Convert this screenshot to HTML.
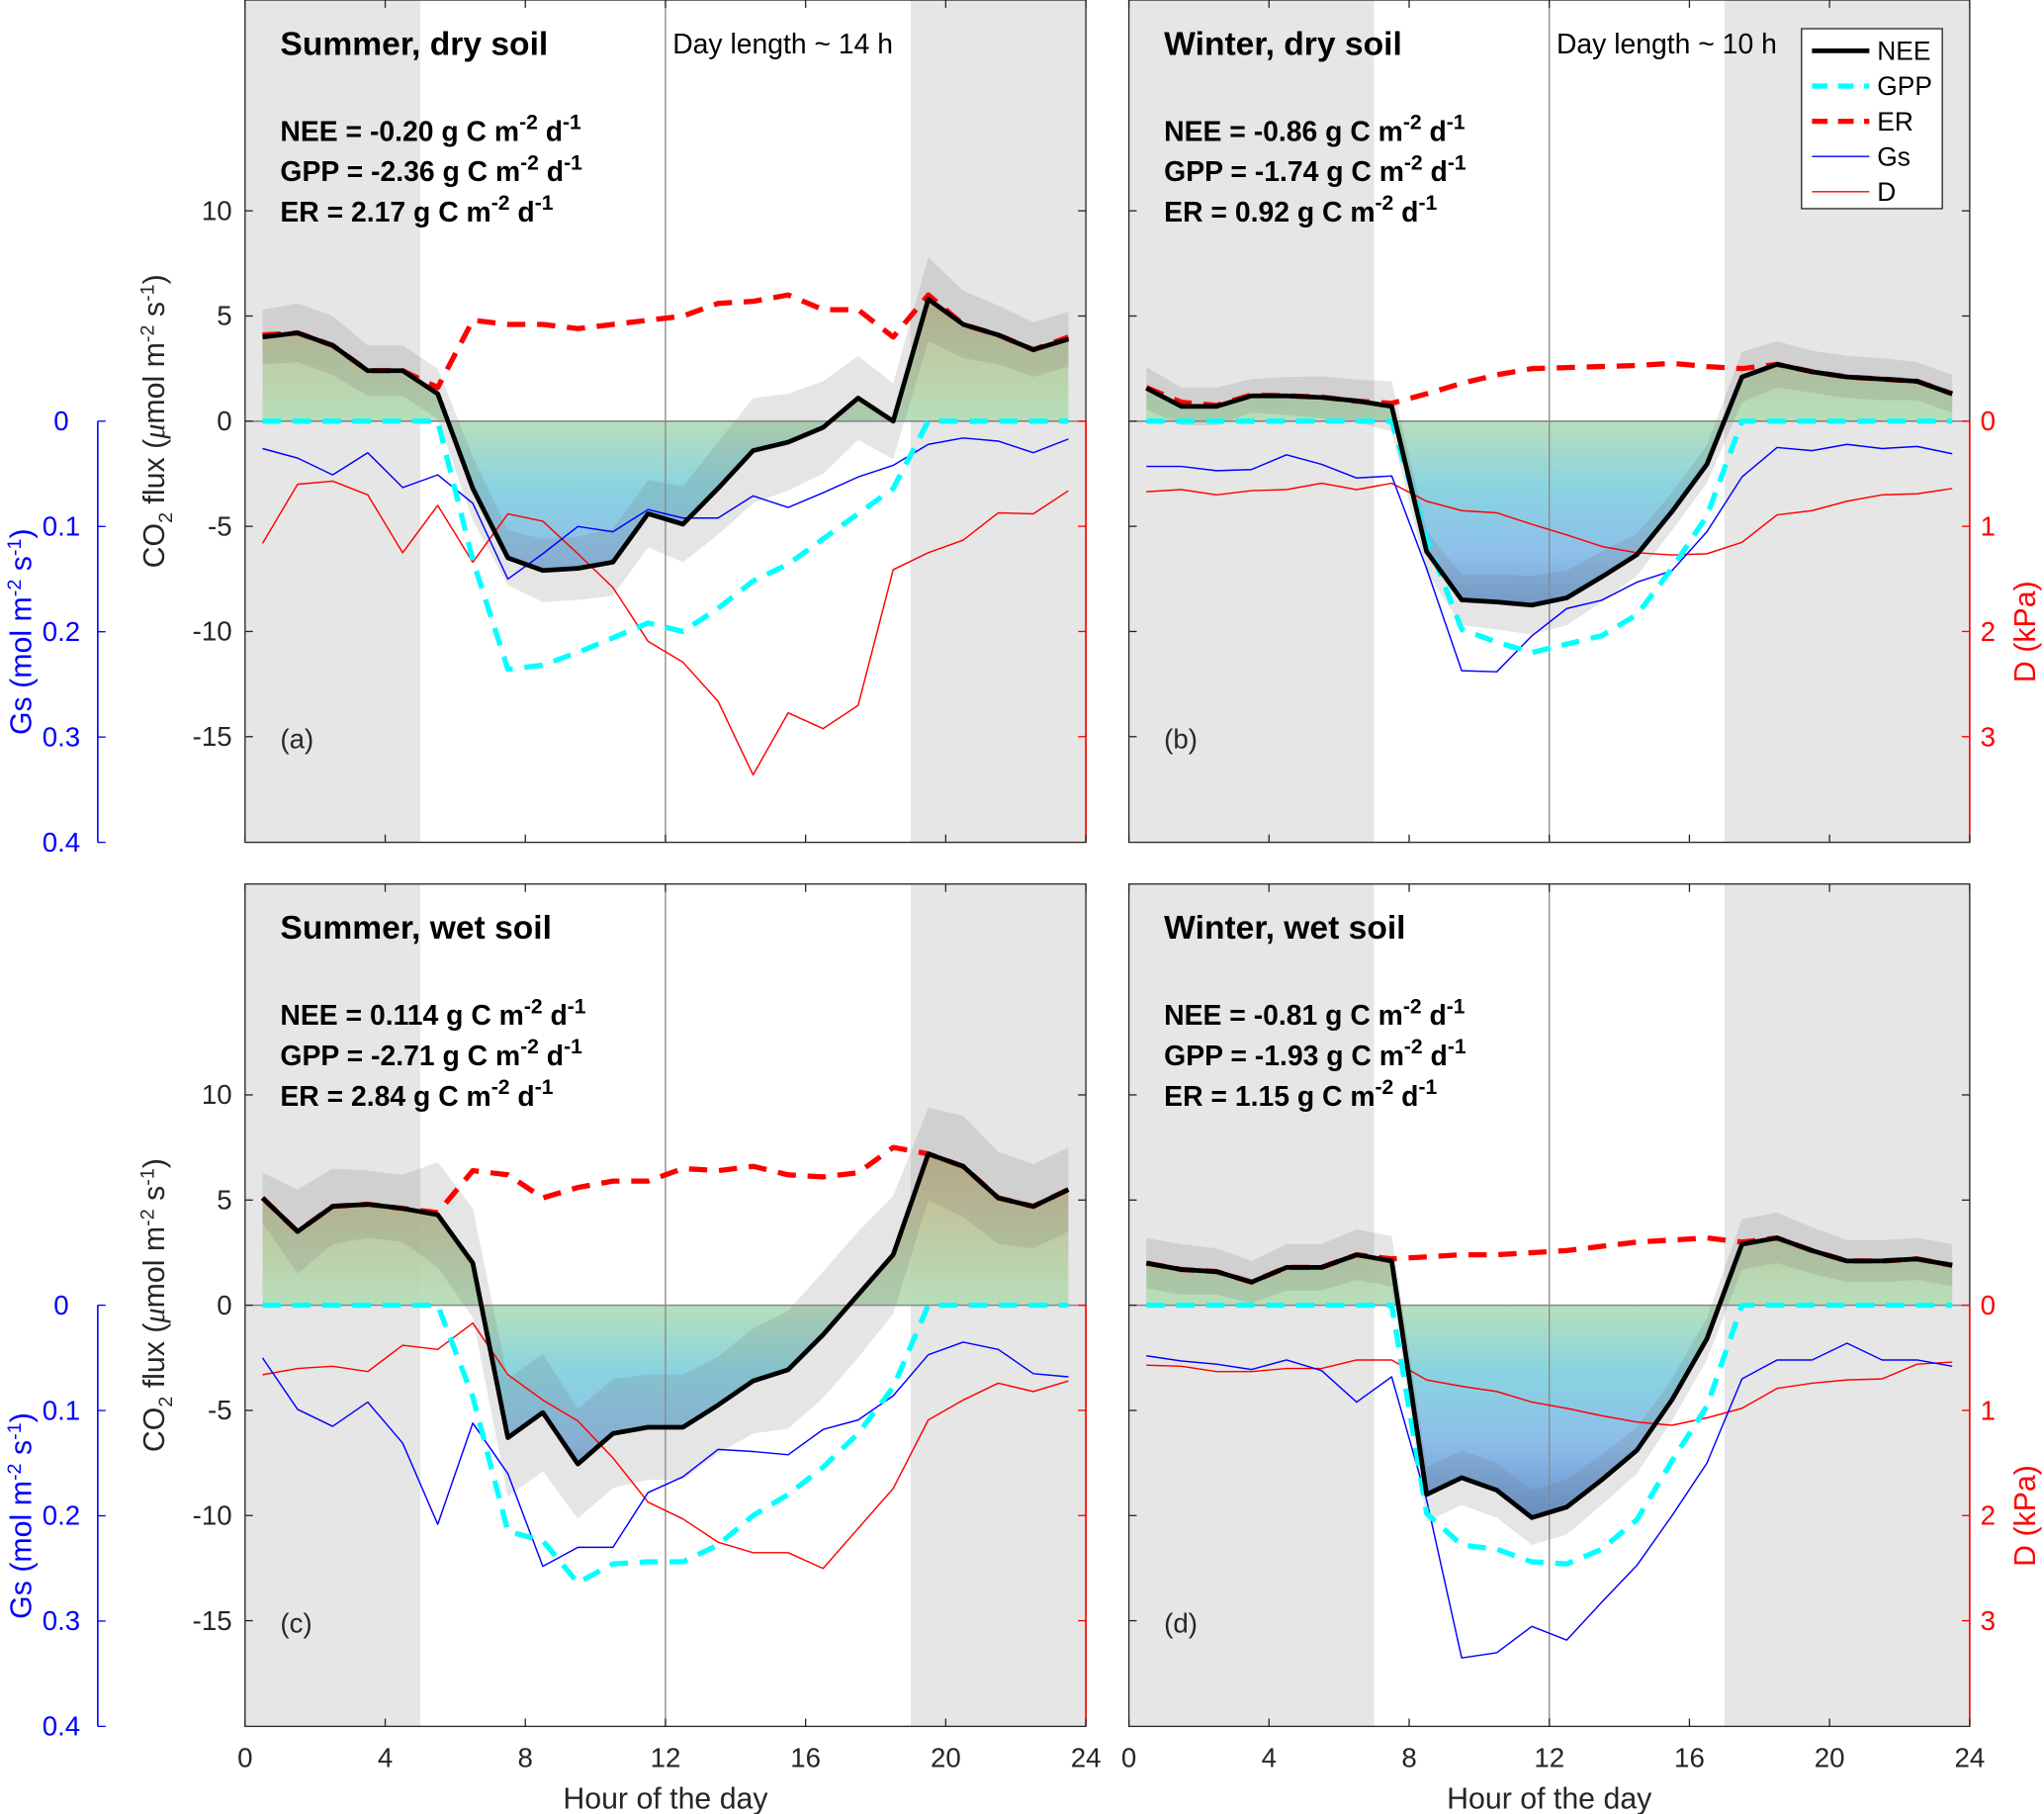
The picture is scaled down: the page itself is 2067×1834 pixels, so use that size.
<!DOCTYPE html>
<html><head><meta charset="utf-8"><style>
html,body{margin:0;padding:0;background:#fff}
svg{display:block}
text{font-family:"Liberation Sans",Arial,sans-serif}
</style></head><body>
<svg id="chart" xmlns="http://www.w3.org/2000/svg" width="2067" height="1834" viewBox="0 0 1568 1391.2" preserveAspectRatio="none"></svg>
<script>
const hours=[0.5,1.5,2.5,3.5,4.5,5.5,6.5,7.5,8.5,9.5,10.5,11.5,12.5,13.5,14.5,15.5,16.5,17.5,18.5,19.5,20.5,21.5,22.5,23.5];
const xTicks=[0,4,8,12,16,20,24];
const yTicks=[-15,-10,-5,0,5,10];
const gsTicks=[0,0.1,0.2,0.3,0.4];
const dTicks=[0,1,2,3];
// panel a
const neeA=[4.0,4.2,3.6,2.4,2.4,1.3,-3.2,-6.5,-7.1,-7.0,-6.7,-4.4,-4.9,-3.2,-1.4,-1.0,-0.3,1.1,0.0,5.8,4.6,4.1,3.4,3.9];
const erA=[4.1,4.2,3.6,2.4,2.4,1.6,4.8,4.6,4.6,4.4,4.6,4.8,5.0,5.6,5.7,6.0,5.3,5.3,4.0,6.0,4.6,4.1,3.4,4.0];
const gppA=[0,0,0,0,0,0,-6.6,-11.8,-11.6,-11.0,-10.3,-9.6,-10.0,-8.9,-7.6,-6.8,-5.6,-4.4,-3.2,0,0,0,0,0];
const gsA=[0.026,0.035,0.051,0.03,0.063,0.051,0.078,0.15,0.126,0.10,0.105,0.084,0.092,0.092,0.071,0.082,0.068,0.053,0.042,0.022,0.016,0.019,0.03,0.017];
const dA=[1.16,0.6,0.57,0.7,1.25,0.8,1.34,0.88,0.95,1.26,1.58,2.09,2.29,2.66,3.36,2.77,2.92,2.7,1.41,1.25,1.13,0.87,0.88,0.66];
const uncA=[1.3,1.4,1.4,1.2,1.2,1.2,1.5,1.3,1.5,1.5,1.6,1.6,1.8,2.2,2.5,2.3,2.2,2.0,1.8,2.0,1.6,1.4,1.3,1.3];
// panel b
const neeB=[1.57,0.7,0.7,1.2,1.2,1.13,0.97,0.7,-6.2,-8.5,-8.6,-8.75,-8.4,-7.4,-6.35,-4.3,-2.05,2.1,2.7,2.35,2.1,2.0,1.9,1.3];
const erB=[1.6,0.9,0.75,1.25,1.2,1.15,0.95,0.85,1.3,1.8,2.2,2.5,2.55,2.6,2.65,2.75,2.6,2.5,2.7,2.35,2.1,2.0,1.9,1.3];
const gppB=[0,0,0,0,0,0,0,0,-5.6,-9.9,-10.5,-11.0,-10.6,-10.2,-9.2,-7.0,-4.5,0,0,0,0,0,0,0];
const gsB=[0.043,0.043,0.047,0.046,0.032,0.041,0.054,0.052,0.14,0.237,0.238,0.204,0.178,0.17,0.153,0.142,0.105,0.053,0.025,0.028,0.022,0.026,0.024,0.031];
const dB=[0.67,0.65,0.7,0.66,0.65,0.59,0.65,0.59,0.76,0.85,0.87,0.98,1.08,1.19,1.25,1.27,1.26,1.15,0.89,0.85,0.76,0.7,0.69,0.64];
const uncB=[1.0,0.9,0.9,0.8,0.9,1.0,1.0,1.2,1.0,1.2,1.3,1.4,1.3,1.2,1.0,0.9,0.9,1.2,1.1,1.0,1.0,1.0,0.9,0.9];
// panel c
const neeC=[5.1,3.5,4.7,4.8,4.6,4.3,2.0,-6.3,-5.1,-7.55,-6.1,-5.8,-5.8,-4.75,-3.6,-3.07,-1.4,0.5,2.4,7.2,6.6,5.1,4.7,5.5];
const erC=[5.1,3.5,4.7,4.8,4.6,4.4,6.4,6.2,5.1,5.6,5.9,5.9,6.5,6.4,6.6,6.2,6.1,6.3,7.5,7.2,6.6,5.1,4.7,5.5];
const gppC=[0,0,0,0,0,0,-4.35,-10.75,-11.2,-13.2,-12.3,-12.2,-12.2,-11.4,-10.0,-9.0,-7.7,-6.1,-3.9,0,0,0,0,0];
const gsC=[0.05,0.099,0.115,0.092,0.131,0.208,0.112,0.16,0.248,0.23,0.23,0.178,0.163,0.137,0.139,0.142,0.118,0.109,0.086,0.047,0.035,0.042,0.065,0.068];
const dC=[0.66,0.6,0.58,0.63,0.38,0.42,0.17,0.66,0.9,1.1,1.45,1.87,2.03,2.25,2.35,2.35,2.5,2.12,1.74,1.09,0.9,0.74,0.82,0.72];
const uncC=[1.2,2.0,1.8,1.6,1.6,2.5,2.6,2.8,2.8,2.6,2.6,2.5,2.5,2.3,2.5,2.8,3.0,3.0,2.8,2.2,2.4,2.2,2.0,2.0];
// panel d
const neeD=[2.0,1.7,1.6,1.1,1.8,1.8,2.4,2.1,-9.0,-8.2,-8.8,-10.1,-9.6,-8.3,-6.9,-4.5,-1.6,2.9,3.2,2.6,2.1,2.1,2.2,1.9];
const erD=[2.0,1.7,1.6,1.1,1.8,1.8,2.4,2.2,2.3,2.4,2.4,2.5,2.6,2.8,3.0,3.1,3.2,3.0,3.2,2.6,2.1,2.1,2.2,1.9];
const gppD=[0,0,0,0,0,0,0,0,-9.9,-11.4,-11.6,-12.2,-12.3,-11.6,-10.2,-7.4,-4.8,0,0,0,0,0,0,0];
const gsD=[0.048,0.053,0.056,0.061,0.052,0.062,0.092,0.068,0.185,0.335,0.33,0.305,0.318,0.282,0.247,0.2,0.15,0.07,0.052,0.052,0.036,0.052,0.052,0.058];
const dD=[0.57,0.58,0.63,0.63,0.6,0.6,0.52,0.52,0.71,0.77,0.82,0.92,0.98,1.05,1.11,1.14,1.07,0.98,0.79,0.74,0.71,0.7,0.56,0.54];
const uncD=[1.2,1.2,1.1,1.0,1.1,1.1,1.2,1.2,1.3,1.3,1.3,1.3,1.3,1.2,1.1,1.0,1.0,1.2,1.2,1.1,1.0,1.0,1.0,1.0];

const NS="http://www.w3.org/2000/svg";
const svg=document.getElementById('chart');
function el(tag,attrs,parent){const e=document.createElementNS(NS,tag);for(const k in attrs)e.setAttribute(k,attrs[k]);(parent||svg).appendChild(e);return e;}
const W=645,H=646,PX=26.875,PY=16.13;
const defs=el('defs',{});
const panels=[
 {id:'a',x0:188,y0:0,night:[[0,5],[19,24]],title:'Summer, dry soil',day:'Day length ~ 14 h',stats:[['NEE','-0.20'],['GPP','-2.36'],['ER','2.17']],nee:neeA,er:erA,gpp:gppA,gs:gsA,d:dA,unc:uncA,left:true,right:false,bottom:false},
 {id:'b',x0:866,y0:0,night:[[0,7],[17,24]],title:'Winter, dry soil',day:'Day length ~ 10 h',stats:[['NEE','-0.86'],['GPP','-1.74'],['ER','0.92']],nee:neeB,er:erB,gpp:gppB,gs:gsB,d:dB,unc:uncB,left:false,right:true,bottom:false,legend:true},
 {id:'c',x0:188,y0:678,night:[[0,5],[19,24]],title:'Summer, wet soil',day:null,stats:[['NEE','0.114'],['GPP','-2.71'],['ER','2.84']],nee:neeC,er:erC,gpp:gppC,gs:gsC,d:dC,unc:uncC,left:true,right:false,bottom:true},
 {id:'d',x0:866,y0:678,night:[[0,7],[17,24]],title:'Winter, wet soil',day:null,stats:[['NEE','-0.81'],['GPP','-1.93'],['ER','1.15']],nee:neeD,er:erD,gpp:gppD,gs:gsD,d:dD,unc:uncD,left:false,right:true,bottom:true}
];
function pts(arr,fx,fy){return arr.map((v,i)=>fx(hours[i]).toFixed(1)+','+fy(v).toFixed(1)).join(' ');}
panels.forEach(p=>{
 const g=el('g',{});
 
 
 const zy=p.y0+H/2;
 const X=h=>p.x0+h*PX, Y=v=>zy-v*PY, YG=s=>zy+s*807.5, YD=d=>zy+d*80.75;
 const cp=el('clipPath',{id:'clip'+p.id},defs);
 el('rect',{x:p.x0,y:p.y0,width:W,height:H},cp);
 const gr=el('linearGradient',{id:'grad'+p.id,gradientUnits:'userSpaceOnUse',x1:0,x2:0,y1:Y(8),y2:Y(-10)},defs);
 [[0,'#c6ad7e'],[0.44,'#b3ddb5'],[0.62,'#7fd0de'],[0.8,'#84b9e8'],[1,'#5a8ccc']].forEach(s=>el('stop',{offset:s[0],'stop-color':s[1]},gr));
 el('rect',{x:p.x0,y:p.y0,width:W,height:H,fill:'#fff'},g);
 p.night.forEach(n=>{const r=el('rect',{x:X(n[0]),y:p.y0,width:(n[1]-n[0])*PX,height:H,fill:'#e6e6e6'},g);
  });
 const cg=el('g',{'clip-path':'url(#clip'+p.id+')'},g);
 const fp=pts(p.nee,X,Y)+' '+X(hours[23]).toFixed(1)+','+zy+' '+X(hours[0]).toFixed(1)+','+zy;
 const fill=el('polygon',{points:fp,fill:'url(#grad'+p.id+')','fill-opacity':0.92},cg);
 
 const up=p.nee.map((v,i)=>v+p.unc[i]), lo=p.nee.map((v,i)=>v-p.unc[i]);
 const bp=pts(up,X,Y)+' '+lo.map((v,i)=>X(hours[i]).toFixed(1)+','+Y(v).toFixed(1)).reverse().join(' ');
 const band=el('polygon',{points:bp,fill:'rgba(110,110,110,0.18)'},cg);
 
 el('line',{x1:p.x0,x2:p.x0+W,y1:zy,y2:zy,stroke:'#888','stroke-width':1.2},cg);
 el('line',{x1:X(12),x2:X(12),y1:p.y0,y2:p.y0+H,stroke:'#888','stroke-width':1},cg);
 const lines=[['d',p.d,YD,'#ff0000',1.1,null],['gs',p.gs,YG,'#0000ff',1.1,null],['gpp',p.gpp,Y,'#00ffff',4,'14 9'],['er',p.er,Y,'#ff0000',4,'14 9'],['nee',p.nee,Y,'#000',3.6,null]];
 lines.forEach(l=>{const a={points:pts(l[1],X,l[2]),fill:'none',stroke:l[3],'stroke-width':l[4],'stroke-linejoin':'round'};if(l[5])a['stroke-dasharray']=l[5];
  const pl=el('polyline',a,cg);});
 el('rect',{x:p.x0,y:p.y0,width:W,height:H,fill:'none',stroke:'#262626','stroke-width':1},g);
 el('line',{x1:p.x0+W,x2:p.x0+W,y1:zy,y2:p.y0+H,stroke:'#ff0000','stroke-width':1.2},g);
 xTicks.forEach(t=>{el('line',{x1:X(t),x2:X(t),y1:p.y0+H,y2:p.y0+H-6,stroke:'#262626'},g);el('line',{x1:X(t),x2:X(t),y1:p.y0,y2:p.y0+6,stroke:'#262626'},g);
  if(p.bottom){const t2=el('text',{x:X(t),y:p.y0+H+31,'font-size':21,'text-anchor':'middle',fill:'#262626'},g);t2.textContent=t;}});
 yTicks.forEach(t=>{el('line',{x1:p.x0,x2:p.x0+6,y1:Y(t),y2:Y(t),stroke:'#262626'},g);el('line',{x1:p.x0+W,x2:p.x0+W-6,y1:Y(t),y2:Y(t),stroke:t>0?'#262626':'#ff0000'},g);
  if(p.left){const t2=el('text',{x:p.x0-10,y:Y(t)+7,'font-size':21,'text-anchor':'end',fill:'#262626'},g);t2.textContent=t;}});
 if(p.right){dTicks.forEach(t=>{const t2=el('text',{x:p.x0+W+14,y:YD(t)+7,'font-size':21,'text-anchor':'middle',fill:'#ff0000'},g);t2.textContent=t;});
  const dl=el('text',{transform:`translate(${p.x0+W+50},${YD(2)}) rotate(-90)`,'font-size':23,'text-anchor':'middle',fill:'#ff0000'},g);dl.textContent='D (kPa)';}
 if(p.left){
  el('line',{x1:75,x2:75,y1:zy,y2:zy+323,stroke:'#0000ff','stroke-width':1.2},g);
  gsTicks.forEach(t=>{el('line',{x1:75,x2:81,y1:YG(t),y2:YG(t),stroke:'#0000ff'},g);const t2=el('text',{x:47,y:YG(t)+7,'font-size':21,'text-anchor':'middle',fill:'#0000ff'},g);t2.textContent=t;});
  const gl=el('text',{transform:`translate(24,${YG(0.2)}) rotate(-90)`,'font-size':23,'text-anchor':'middle',fill:'#0000ff'},g);
  gl.innerHTML='Gs (mol m<tspan dy="-8" font-size="15">-2</tspan><tspan dy="8"> s</tspan><tspan dy="-8" font-size="15">-1</tspan><tspan dy="8">)</tspan>';
  
  const cl=el('text',{transform:`translate(126,${zy}) rotate(-90)`,'font-size':23,'text-anchor':'middle',fill:'#262626'},g);
  cl.innerHTML='CO<tspan dy="6" font-size="15">2</tspan><tspan dy="-6"> flux (</tspan><tspan font-family="Liberation Serif" font-style="italic">μ</tspan>mol m<tspan dy="-8" font-size="15">-2</tspan><tspan dy="8"> s</tspan><tspan dy="-8" font-size="15">-1</tspan><tspan dy="8">)</tspan>';
  
 }
 if(p.bottom){const xl=el('text',{x:p.x0+W/2,y:p.y0+H+63,'font-size':23,'text-anchor':'middle',fill:'#262626'},g);xl.textContent='Hour of the day';}
 const tt=el('text',{x:p.x0+27,y:p.y0+42,'font-size':25.5,'font-weight':'bold',fill:'#000'},g);tt.textContent=p.title;
 if(p.day){const dt=el('text',{x:p.x0+328,y:p.y0+41,'font-size':21.5,fill:'#000'},g);dt.textContent=p.day;}
 p.stats.forEach((s,i)=>{const st=el('text',{x:p.x0+27,y:p.y0+108+i*31,'font-size':21.5,'font-weight':'bold',fill:'#000'},g);
  st.innerHTML=s[0]+' = '+s[1]+' g C m<tspan dy="-9" font-size="16">-2</tspan><tspan dy="9"> d</tspan><tspan dy="-9" font-size="16">-1</tspan>';
  });
 const lb=el('text',{x:p.x0+27,y:p.y0+574,'font-size':21,fill:'#262626'},g);lb.textContent='('+p.id+')';
 if(p.legend){
  const lg=el('g',{},g);
  el('rect',{x:1382,y:22,width:108,height:138,fill:'#fff',stroke:'#262626','stroke-width':1},lg);
  const items=[['NEE','#000',3.6,null],['GPP','#00ffff',4,'12 8'],['ER','#ff0000',4,'12 8'],['Gs','#0000ff',1.1,null],['D','#ff0000',1.1,null]];
  items.forEach((it,i)=>{const yy=39+i*27;const a={x1:1390,x2:1434,y1:yy,y2:yy,stroke:it[1],'stroke-width':it[2]};if(it[3])a['stroke-dasharray']=it[3];
   const ln=el('line',a,lg);
   const t=el('text',{x:1440,y:yy+7,'font-size':20,fill:'#000'},lg);t.textContent=it[0];});
 }
});
</script>
</body></html>
